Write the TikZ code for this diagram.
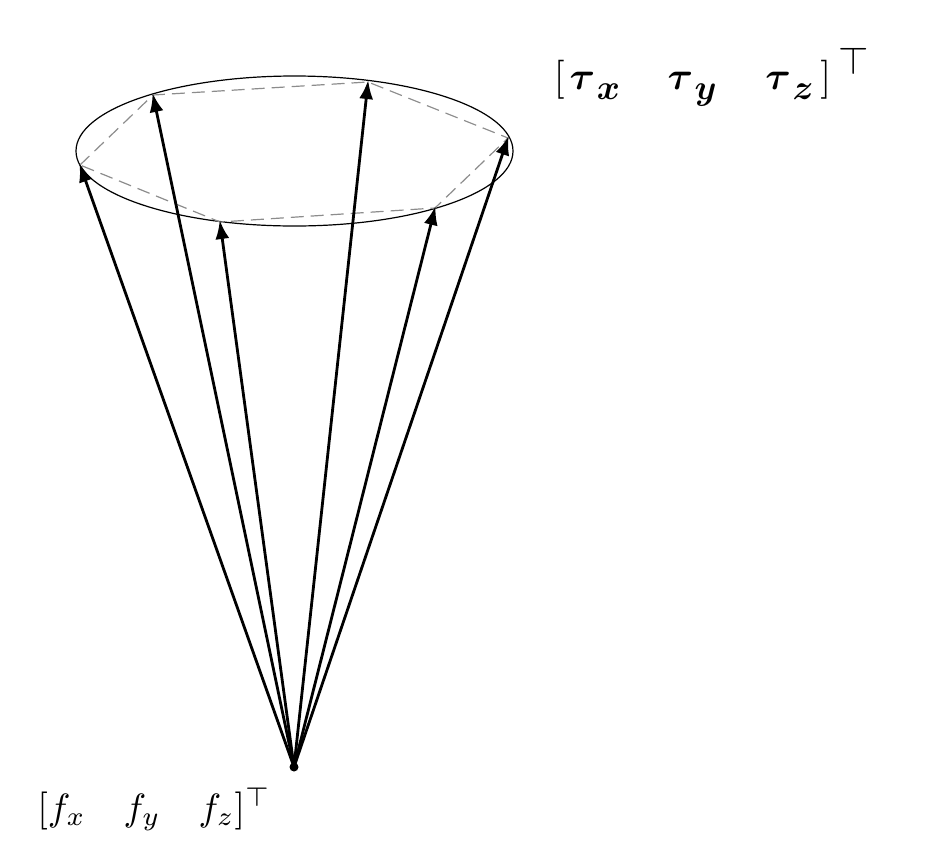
\documentclass[tikz,border=0pt]{standalone}
\usepackage{amsmath}
\usepackage{bm}
\usetikzlibrary{arrows.meta}
\newcommand{\tcell}[2]{\makebox[#1][l]{$\bm{\tau}$\hspace*{0.4pt}\raisebox{-2.5pt}{\scalebox{0.9}{$\bm{#2}$}}}}
\tikzset{
  force/.style={draw=black,line width=1.4pt,-{Latex[length=9.5pt,width=7pt]},shorten >=-1pt},
  hull/.style={draw=black!45,line width=0.6pt,dash pattern=on 6.5pt off 3.5pt},
  rim/.style={draw=black,line width=0.6pt},
  lab/.style={inner sep=0pt,anchor=base west}
}
\begin{document}
\begin{tikzpicture}[x=0.5pt,y=-0.5pt]
\useasboundingbox (0,0) rectangle (925,863);
\coordinate (O) at (294,767);
\coordinate (A) at (80,165);
\coordinate (B) at (153,95);
\coordinate (C) at (368,82);
\coordinate (D) at (508,138);
\coordinate (E) at (435,208);
\coordinate (F) at (220,222);
\draw[rim] (294.5,151) ellipse [x radius=218.5,y radius=75];
\draw[hull] (A) -- (B) -- (C) -- (D) -- (E) -- (F) -- cycle;
\foreach \p in {A,B,C,D,E,F} \draw[force] (O) -- (\p);
\fill (O) circle [radius=4.5];
\node[lab] (flabel) at (37,820) {\scalebox{1.9}{$[f_x\quad f_y\quad f_z]^\top$}};
\node[lab] (tlabel) at (553.4,89.5) {\scalebox{1.95}{$[$\hspace*{1.3pt}\tcell{25.1pt}{x}\tcell{25.1pt}{y}\tcell{14.1pt}{z}$]$\hspace*{1.8pt}\raisebox{3.8pt}{$\top$}}};
\end{tikzpicture}
\end{document}
